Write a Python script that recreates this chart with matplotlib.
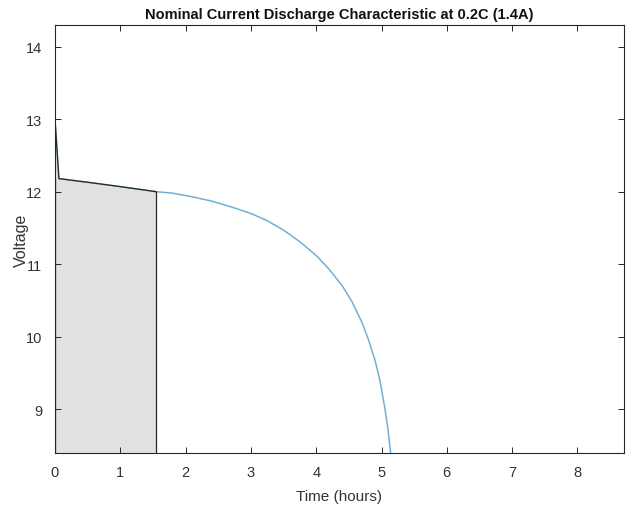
import matplotlib
matplotlib.use("Agg")
import matplotlib.pyplot as plt
import numpy as np

# discharge curve
time_h = [0.0, 0.06, 0.5, 1.0, 1.55, 1.8, 2.1, 2.4, 2.7, 3.0, 3.25, 3.5,
          3.75, 4.0, 4.2, 4.4, 4.55, 4.7, 4.8, 4.9, 4.98, 5.05, 5.1, 5.14]
voltage = [13.0, 12.18, 12.13, 12.07, 12.0, 11.98, 11.93, 11.87, 11.79, 11.70,
           11.60, 11.47, 11.31, 11.12, 10.93, 10.70, 10.48, 10.20, 9.96, 9.68,
           9.38, 9.02, 8.72, 8.4]
nominal_end = 1.55
x_ticks = [0, 1, 2, 3, 4, 5, 6, 7, 8]
y_ticks = [9, 10, 11, 12, 13, 14]

plt.rcParams["font.family"] = ["Liberation Sans", "DejaVu Sans"]

fig = plt.figure(figsize=(6.32, 5.06), dpi=100)
ax = fig.add_axes([0.087, 0.103, 0.9, 0.846])

t = np.array(time_h)
v = np.array(voltage)
ax.plot(t, v, color="#72b0d2", lw=1.1, zorder=2, solid_joinstyle="round")

# shaded area up to the nominal point
m = t <= nominal_end
ts = t[m]
vs = v[m]
ax.fill_between(ts, 8.4, vs, facecolor="#e1e1e1", edgecolor="none", zorder=1)
ax.plot(ts, vs, color="#262626", lw=0.9, zorder=3)
ax.plot([ts[-1], ts[-1]], [8.4, vs[-1]], color="#262626", lw=0.9, zorder=3)
ax.plot([0, 0], [8.4, vs[1]], color="#262626", lw=0.9, zorder=3)

ax.set_xlim(0, 8.71)
ax.set_ylim(8.4, 14.3)
ax.set_xticks(x_ticks)
ax.set_yticks(y_ticks)
ax.tick_params(direction="in", top=True, right=True, length=4, width=0.7,
               colors="#262626", labelsize=10.5, labelcolor="#333333", pad=9)
for s in ax.spines.values():
    s.set_color("#262626")
    s.set_linewidth(0.8)

ax.set_title("Nominal Current Discharge Characteristic at 0.2C (1.4A)",
             fontsize=10.5, fontweight="bold", pad=5, color="#111111")
ax.set_xlabel("Time (hours)", fontsize=11, color="#333333", labelpad=7)
ax.set_ylabel("Voltage", fontsize=11.5, color="#333333", labelpad=-2)

fig.savefig("out.png", dpi=100)
